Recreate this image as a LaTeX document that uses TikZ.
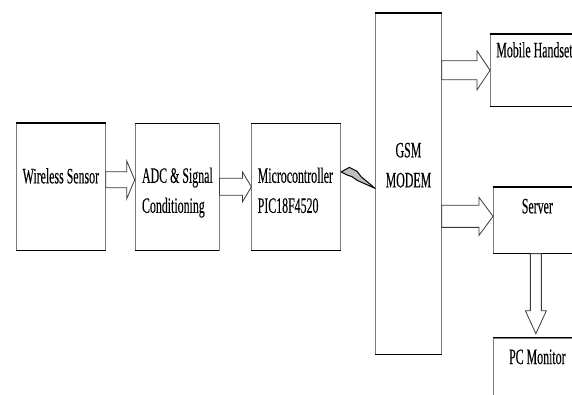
\documentclass[tikz,border=0pt]{standalone}
\usepackage{fontspec}
\setmainfont{Liberation Serif}
\newfontfamily\diagfont[FakeStretch=0.54, FakeBold=0.2]{Liberation Serif}
\newcommand\diagsize{\diagfont\fontsize{22pt}{30pt}\selectfont}
\usepackage{tikz}
\usetikzlibrary{positioning, calc}
\definecolor{edgegray}{HTML}{7A7A7A}
\definecolor{inkdark}{HTML}{3A3A3A}

\begin{document}
\begin{tikzpicture}[
  x=1pt, y=-1pt,
  rim/.style={draw=black, line width=1.3pt},
  box/.style={draw=edgegray, line width=0.7pt, inner ysep=0pt, inner xsep=6pt, align=left,
              font=\diagsize, execute at begin node={\spaceskip=3pt\relax},
              append after command={(\tikzlastnode.north west) edge[rim] (\tikzlastnode.north east)
                                    (\tikzlastnode.south west) edge[rim] (\tikzlastnode.south east)}},
  fat/.style n args={3}{draw=inkdark, line width=0.8pt, fill=white,
    to path={($(\tikztotarget)!#3!(\tikztostart)$) coordinate (fb)
             ($(\tikztostart)!#1!90:(\tikztotarget)$) -- ($(fb)!#1!90:(\tikztotarget)$)
             -- ($(fb)!#2!90:(\tikztotarget)$) -- (\tikztotarget)
             -- ($(fb)!#2!-90:(\tikztotarget)$) -- ($(fb)!#1!-90:(\tikztotarget)$)
             -- ($(\tikztostart)!#1!-90:(\tikztotarget)$) -- cycle}},
  bolt/.style={draw=black, fill=black!25, line width=1pt, line join=round,
    to path={-- ($(\tikztostart)!0.25!54:(\tikztotarget)$) -- ($(\tikztostart)!0.42!28:(\tikztotarget)$)
             -- ($(\tikztostart)!0.55!12:(\tikztotarget)$) -- (\tikztotarget)
             -- ($(\tikztostart)!0.49!-2:(\tikztotarget)$) -- ($(\tikztostart)!0.32!2:(\tikztotarget)$)
             -- ($(\tikztostart)!0.17!-2:(\tikztotarget)$) -- cycle}}
]
\useasboundingbox[fill=white] (0,0) rectangle (572,395);

\node[box, anchor=north west, inner xsep=3pt, text width=83pt, align=center,
      text height=60pt, text depth=67pt] (sensor) at (16,123) {Wireless Sensor};
\node[box, right=29pt of sensor, inner xsep=7pt, text width=70pt,
      text height=59pt, text depth=67pt] (adc) {\mbox{ADC \& Signal}\\Conditioning};
\node[box, right=32pt of adc, text width=77pt,
      text height=59pt, text depth=67pt] (micro) {Microcontroller\\PIC18F4520};
\node[box, right=34pt of micro, yshift=3pt, inner xsep=3pt, text width=60pt, align=center,
      text height=144pt, text depth=197pt] (gsm) {GSM\\MODEM};
\node[box, anchor=north west, text width=88pt,
      text height=23pt, text depth=49pt] (mobile) at (490,34) {\mbox{Mobile Handset}};
\node[box, anchor=north west, inner xsep=3pt, text width=82pt, align=center,
      text height=26pt, text depth=40pt] (server) at (493,187) {Server};
\node[box, below=84pt of server, inner xsep=3pt, text width=82pt, align=center,
      text height=26pt, text depth=57pt] (pc) {PC Monitor};

\draw[fat={8pt}{19pt}{8pt}] ([yshift=7pt]sensor.east) to ([yshift=7pt]adc.west);
\draw[fat={8.5pt}{15pt}{9pt}] (adc.east) to (micro.west);
\draw[bolt] ([yshift=15pt]micro.east) to ([yshift=-4.5pt]gsm.west);
\draw[fat={9.5pt}{19.5pt}{13pt}] (gsm.east |- mobile.west) to (mobile.west);
\draw[fat={11pt}{19pt}{14pt}] ([yshift=4pt]gsm.east |- server.west) to ([yshift=4pt]server.west);
\draw[fat={5.5pt}{10.5pt}{23pt}] ([xshift=-1.5pt]server.south) to ([xshift=-1.5pt, yshift=4pt]pc.north);
\end{tikzpicture}
\end{document}
